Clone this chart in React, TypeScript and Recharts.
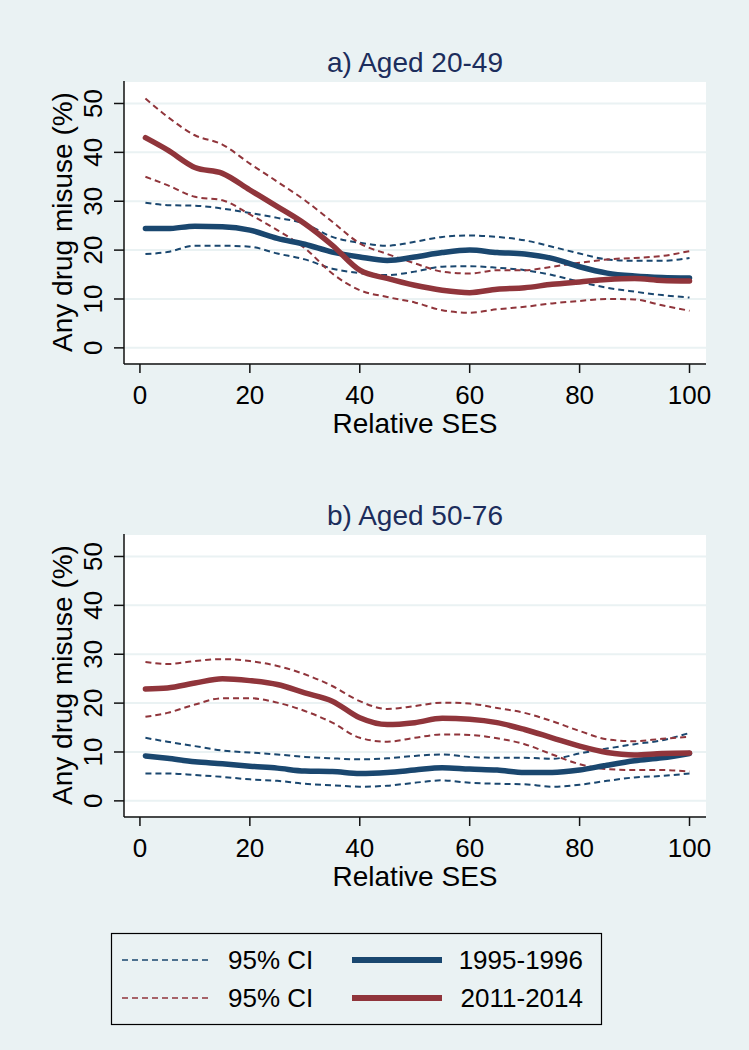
import { LineChart, Line, XAxis, YAxis, CartesianGrid } from "recharts";

// relative SES (x) sample points
const ses = [1, 5, 10, 15, 20, 25, 30, 35, 40, 45, 50, 55, 60, 65, 70, 75, 80, 85, 90, 95, 100];

// a) Aged 20-49
const a9596 = [24.4, 24.4, 24.9, 24.8, 24.1, 22.4, 21.2, 19.6, 18.6, 17.9, 18.6, 19.5, 20.0, 19.5, 19.2, 18.3, 16.6, 15.3, 14.7, 14.4, 14.3];
const a9596Hi = [29.7, 29.2, 29.1, 28.5, 27.6, 26.6, 25.4, 22.7, 21.5, 20.9, 21.7, 22.7, 23.0, 22.7, 22.0, 20.7, 19.3, 18.1, 17.8, 17.8, 18.4];
const a9596Lo = [19.2, 19.6, 20.9, 20.9, 20.7, 19.3, 18.1, 16.2, 15.3, 14.9, 15.6, 16.6, 16.7, 16.4, 15.9, 14.9, 13.5, 12.3, 11.5, 10.8, 10.3];
const a1114 = [43.0, 40.5, 36.9, 35.7, 32.3, 28.9, 25.4, 21.0, 15.9, 14.2, 12.8, 11.8, 11.3, 12.0, 12.3, 13.0, 13.5, 14.0, 14.2, 13.8, 13.7];
const a1114Hi = [51.0, 47.3, 43.5, 41.6, 37.7, 34.0, 30.2, 25.8, 21.4, 19.2, 17.3, 15.6, 15.2, 15.9, 15.9, 16.6, 17.4, 18.1, 18.4, 18.8, 19.8];
const a1114Lo = [35.0, 33.3, 30.9, 30.2, 27.3, 24.1, 20.4, 15.2, 11.8, 10.4, 9.3, 7.7, 7.2, 7.9, 8.4, 9.1, 9.6, 10.0, 9.9, 8.7, 7.6];

// b) Aged 50-76
const b9596 = [9.2, 8.7, 8.0, 7.6, 7.1, 6.7, 6.1, 6.0, 5.6, 5.8, 6.3, 6.8, 6.5, 6.3, 5.8, 5.8, 6.3, 7.3, 8.2, 8.8, 9.7];
const b9596Hi = [12.9, 12.1, 11.2, 10.3, 9.9, 9.5, 9.0, 8.7, 8.5, 8.7, 9.2, 9.5, 9.0, 8.8, 8.8, 8.6, 9.7, 10.7, 11.6, 12.4, 13.9];
const b9596Lo = [5.6, 5.6, 5.3, 4.9, 4.4, 4.1, 3.5, 3.2, 2.9, 3.1, 3.7, 4.2, 3.7, 3.5, 3.4, 2.9, 3.3, 4.1, 4.8, 5.1, 5.6];
const b1114 = [22.9, 23.1, 24.1, 25.0, 24.6, 23.8, 22.1, 20.4, 17.0, 15.6, 16.0, 16.9, 16.7, 16.0, 14.6, 12.9, 11.2, 9.9, 9.4, 9.7, 9.8];
const b1114Hi = [28.4, 28.0, 28.6, 29.0, 28.6, 27.6, 25.9, 23.5, 20.4, 18.8, 19.4, 20.1, 19.9, 19.0, 18.0, 16.3, 14.3, 12.6, 12.2, 12.7, 13.1];
const b1114Lo = [17.2, 18.0, 19.7, 21.0, 21.0, 20.1, 18.4, 16.0, 12.9, 12.1, 12.9, 13.6, 13.5, 12.8, 11.6, 9.5, 7.5, 6.5, 6.3, 6.3, 6.0];

const xTicks = [0, 20, 40, 60, 80, 100];
const yTicks = [0, 10, 20, 30, 40, 50];

const NAVY = "#1a476f";
const MAROON = "#90353b";
const BG = "#eaf2f3";
const TITLE = "#1c2d5c";
const FONT = "'Liberation Sans', Arial, sans-serif";

const rowsA = ses.map((x, i) => ({
  ses: x,
  mid95: a9596[i],
  hi95: a9596Hi[i],
  lo95: a9596Lo[i],
  mid11: a1114[i],
  hi11: a1114Hi[i],
  lo11: a1114Lo[i],
}));

const rowsB = ses.map((x, i) => ({
  ses: x,
  mid95: b9596[i],
  hi95: b9596Hi[i],
  lo95: b9596Lo[i],
  mid11: b1114[i],
  hi11: b1114Hi[i],
  lo11: b1114Lo[i],
}));

function YTick(props: any) {
  const { x, y, payload } = props;
  return (
    <text
      transform={`translate(${x - 10},${y}) rotate(-90)`}
      textAnchor="middle"
      fontSize={26}
      fontFamily={FONT}
      fill="#000"
    >
      {payload.value}
    </text>
  );
}

function Panel({ rows, top }: { rows: any[]; top: number }) {
  return (
    <div style={{ position: "absolute", left: 0, top }}>
      <LineChart
        width={749}
        height={440}
        data={rows}
        margin={{ top: 81, right: 43, left: 0, bottom: 0 }}
      >
        <CartesianGrid
          vertical={false}
          fill="#ffffff"
          fillOpacity={1}
          stroke={BG}
          strokeWidth={2}
        />
        <XAxis
          dataKey="ses"
          type="number"
          domain={[-2.9, 103]}
          ticks={xTicks}
          allowDataOverflow
          height={76}
          tickSize={9}
          tickMargin={13}
          stroke="#111"
          strokeWidth={1.5}
          tick={{ fontSize: 26, fill: "#000", fontFamily: FONT }}
        />
        <YAxis
          type="number"
          domain={[-3.3, 54.6]}
          ticks={yTicks}
          allowDataOverflow
          width={124}
          tickSize={10}
          stroke="#111"
          strokeWidth={1.5}
          tick={<YTick />}
        />
        <Line dataKey="hi95" type="monotone" stroke={NAVY} strokeWidth={2} strokeDasharray="6 4" dot={false} isAnimationActive={false} />
        <Line dataKey="lo95" type="monotone" stroke={NAVY} strokeWidth={2} strokeDasharray="6 4" dot={false} isAnimationActive={false} />
        <Line dataKey="hi11" type="monotone" stroke={MAROON} strokeWidth={2} strokeDasharray="6 4" dot={false} isAnimationActive={false} />
        <Line dataKey="lo11" type="monotone" stroke={MAROON} strokeWidth={2} strokeDasharray="6 4" dot={false} isAnimationActive={false} />
        <Line dataKey="mid95" type="monotone" stroke={NAVY} strokeWidth={5.5} strokeLinecap="round" dot={false} isAnimationActive={false} />
        <Line dataKey="mid11" type="monotone" stroke={MAROON} strokeWidth={5.5} strokeLinecap="round" dot={false} isAnimationActive={false} />
      </LineChart>
    </div>
  );
}

export default function App() {
  const panelShift = 453;
  return (
    <div
      style={{
        position: "absolute",
        left: 0,
        top: 0,
        width: 749,
        height: 1050,
        background: BG,
        fontFamily: FONT,
      }}
    >
      <Panel rows={rowsA} top={0} />
      <Panel rows={rowsB} top={panelShift} />
      <svg
        width={749}
        height={1050}
        style={{ position: "absolute", left: 0, top: 0, pointerEvents: "none" }}
        fontFamily={FONT}
      >
        {[0, panelShift].map((dy, i) => (
          <g key={i}>
            <text x={415} y={72 + dy} textAnchor="middle" fontSize={28} fill={TITLE}>
              {i === 0 ? "a) Aged 20-49" : "b) Aged 50-76"}
            </text>
            <text x={415} y={433 + dy} textAnchor="middle" fontSize={28} fill="#000">
              Relative SES
            </text>
            <text
              transform={`translate(72,${222 + dy}) rotate(-90)`}
              textAnchor="middle"
              fontSize={28}
              fill="#000"
            >
              Any drug misuse (%)
            </text>
          </g>
        ))}
        <rect x={111.5} y={933.5} width={490} height={91} fill="none" stroke="#000" strokeWidth={1.2} />
        <line x1={122} x2={210} y1={960} y2={960} stroke={NAVY} strokeWidth={1.6} strokeDasharray="6 4" />
        <text x={228} y={969} fontSize={26} fill="#000">95% CI</text>
        <line x1={352} x2={442} y1={960} y2={960} stroke={NAVY} strokeWidth={6} />
        <text x={583} y={969} textAnchor="end" fontSize={26} fill="#000">1995-1996</text>
        <line x1={122} x2={210} y1={998} y2={998} stroke={MAROON} strokeWidth={1.6} strokeDasharray="6 4" />
        <text x={228} y={1007} fontSize={26} fill="#000">95% CI</text>
        <line x1={352} x2={442} y1={998} y2={998} stroke={MAROON} strokeWidth={6} />
        <text x={583} y={1007} textAnchor="end" fontSize={26} fill="#000">2011-2014</text>
      </svg>
    </div>
  );
}
